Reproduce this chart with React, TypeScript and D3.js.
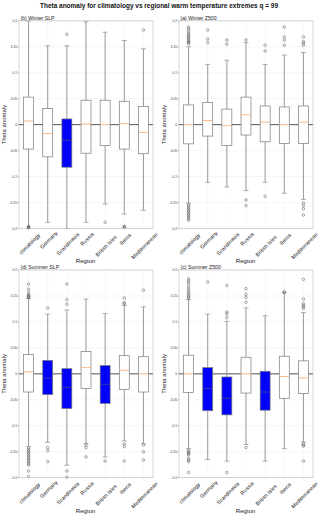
import React from "react"
import * as d3 from "d3"

// Data
const regions = ["climatology", "Germany", "Scandinavia", "Russia", "British Isles", "Iberia", "Mediterranean"]
const yTicks = [-0.2, -0.15, -0.1, -0.05, 0, 0.05, 0.1, 0.15, 0.2]

// (b) Winter SLP
const winterSlpHi = [0.2, 0.152, 0.152, 0.198, 0.178, 0.162, 0.146]
const winterSlpQ3 = [0.053, 0.031, 0.011, 0.047, 0.047, 0.045, 0.035]
const winterSlpMed = [0.007, -0.017, -0.03, 0.001, 0.0, 0.002, -0.015]
const winterSlpQ1 = [-0.047, -0.062, -0.082, -0.055, -0.04, -0.047, -0.056]
const winterSlpLo = [-0.2, -0.188, -0.2, -0.188, -0.153, -0.172, -0.165]
const winterSlpOut = [
  [-0.196, -0.197, -0.198, -0.199],
  [],
  [0.174],
  [],
  [-0.188],
  [-0.196, -0.197, -0.198],
  [0.182]
]
const winterSlpSig = [false, false, true, false, false, false, false]

// (a) Winter Z500
const winterZHi = [0.15, 0.116, 0.124, 0.158, 0.116, 0.134, 0.139]
const winterZQ3 = [0.038, 0.043, 0.03, 0.053, 0.036, 0.034, 0.036]
const winterZMed = [0.0, 0.008, -0.002, 0.019, 0.005, 0.0, 0.005]
const winterZQ1 = [-0.037, -0.022, -0.04, -0.02, -0.033, -0.036, -0.036]
const winterZLo = [-0.151, -0.111, -0.12, -0.127, -0.111, -0.132, -0.144]
const winterZOut = [
  [0.156, 0.158, 0.16, 0.162, 0.165, 0.168, 0.17, 0.173, 0.176, 0.18, 0.184, 0.188,
    -0.154, -0.157, -0.16, -0.163, -0.166, -0.169, -0.172, -0.175, -0.178, -0.181, -0.184],
  [0.182, 0.165, 0.158],
  [0.163, 0.155],
  [0.163, -0.145, -0.156],
  [0.153, 0.142, -0.138],
  [0.188, 0.169, 0.163, 0.153],
  [0.169, 0.16, 0.157, 0.153, -0.151, -0.156, -0.162, -0.174]
]
const winterZSig = [false, false, false, false, false, false, false]

// (d) Summer SLP
const summerSlpHi = [0.145, 0.115, 0.123, 0.144, 0.116, 0.132, 0.129]
const summerSlpQ3 = [0.037, 0.026, 0.01, 0.043, 0.016, 0.035, 0.033]
const summerSlpMed = [0.004, -0.008, -0.026, 0.012, -0.02, 0.007, 0.0]
const summerSlpQ1 = [-0.035, -0.04, -0.067, -0.028, -0.057, -0.03, -0.035]
const summerSlpLo = [-0.14, -0.132, -0.176, -0.134, -0.16, -0.129, -0.134]
const summerSlpOut = [
  [0.147, 0.148, 0.149, 0.151, 0.153, 0.157, 0.163, 0.173,
    -0.143, -0.146, -0.149, -0.152, -0.155, -0.158, -0.161, -0.164, -0.167, -0.17, -0.173, -0.176, -0.187, -0.198],
  [0.127, -0.142, -0.148, -0.169],
  [0.173, 0.143, 0.134, -0.187, -0.199],
  [-0.137, -0.142, -0.16],
  [-0.168],
  [0.146, 0.137, 0.135, -0.135, -0.14, -0.168],
  [0.161, -0.137, -0.15, -0.166]
]
const summerSlpSig = [false, true, true, false, true, false, false]

// (c) Summer Z500
const summerZHi = [0.143, 0.115, 0.101, 0.127, 0.112, 0.156, 0.118]
const summerZQ3 = [0.036, 0.012, -0.006, 0.032, 0.005, 0.034, 0.025]
const summerZMed = [0.0, -0.028, -0.047, 0.0, -0.035, -0.005, -0.008]
const summerZQ1 = [-0.036, -0.071, -0.079, -0.037, -0.07, -0.047, -0.038]
const summerZLo = [-0.144, -0.165, -0.168, -0.136, -0.168, -0.144, -0.131]
const summerZOut = [
  [0.145, 0.148, 0.151, 0.154, 0.157, 0.161, 0.165, 0.17, 0.175, 0.179, 0.183,
    -0.147, -0.15, -0.152, -0.154, -0.156, -0.163, -0.166, -0.169, -0.19],
  [0.177],
  [0.17, 0.119, 0.115, 0.108, -0.19],
  [0.164, 0.153, 0.147, 0.138, -0.142],
  [],
  [0.157, 0.158],
  [0.182, 0.144, 0.135, 0.132, 0.129, 0.126, -0.134, -0.137, -0.139, -0.168]
]
const summerZSig = [false, true, true, false, true, false, false]

const panels = [
  { title: "(b) Winter SLP", col: 0, row: 0, hi: winterSlpHi, q3: winterSlpQ3, med: winterSlpMed, q1: winterSlpQ1, lo: winterSlpLo, out: winterSlpOut, sig: winterSlpSig },
  { title: "(a) Winter Z500", col: 1, row: 0, hi: winterZHi, q3: winterZQ3, med: winterZMed, q1: winterZQ1, lo: winterZLo, out: winterZOut, sig: winterZSig },
  { title: "(d) Summer SLP", col: 0, row: 1, hi: summerSlpHi, q3: summerSlpQ3, med: summerSlpMed, q1: summerSlpQ1, lo: summerSlpLo, out: summerSlpOut, sig: summerSlpSig },
  { title: "(c) Summer Z500", col: 1, row: 1, hi: summerZHi, q3: summerZQ3, med: summerZMed, q1: summerZQ1, lo: summerZLo, out: summerZOut, sig: summerZSig }
]

const font = "'Liberation Sans', Arial, sans-serif"

function Panel({ p }) {
  const left = p.col === 0 ? 19 : 179
  const top = p.row === 0 ? 20.8 : 270
  const w = 134
  const h = 207.7

  const xScale = d3.scaleBand().domain(regions).range([0, w]).padding(0)
  const yScale = d3.scaleLinear().domain([-0.2, 0.2]).range([h, 0])
  const bw = xScale.bandwidth() * 0.52
  const cap = bw * 0.5
  const cx = (r) => xScale(r) + xScale.bandwidth() / 2
  const fs = 5.4

  return (
    <g transform={`translate(${left}, ${top})`}>
      {/* grid */}
      {yTicks.map((t) => (
        <line key={`gy-${t}`} x1={0} x2={w} y1={yScale(t)} y2={yScale(t)} stroke="#ececec" strokeWidth={0.5} />
      ))}
      {regions.map((r) => (
        <line key={`gx-${r}`} x1={cx(r)} x2={cx(r)} y1={0} y2={h} stroke="#e4e4e4" strokeWidth={0.5} strokeDasharray="1,1" />
      ))}
      {/* zero line */}
      <line x1={0} x2={w} y1={yScale(0)} y2={yScale(0)} stroke="#555" strokeWidth={1} />
      {/* boxes */}
      {regions.map((r, i) => {
        const x = cx(r)
        return (
          <g key={`box-${r}`}>
            <line x1={x} x2={x} y1={yScale(p.q3[i])} y2={yScale(p.hi[i])} stroke="#999" strokeWidth={1} />
            <line x1={x} x2={x} y1={yScale(p.q1[i])} y2={yScale(p.lo[i])} stroke="#999" strokeWidth={1} />
            <line x1={x - cap / 2} x2={x + cap / 2} y1={yScale(p.hi[i])} y2={yScale(p.hi[i])} stroke="#999" strokeWidth={0.8} />
            <line x1={x - cap / 2} x2={x + cap / 2} y1={yScale(p.lo[i])} y2={yScale(p.lo[i])} stroke="#999" strokeWidth={0.8} />
            <rect
              x={x - bw / 2}
              y={yScale(p.q3[i])}
              width={bw}
              height={yScale(p.q1[i]) - yScale(p.q3[i])}
              fill={p.sig[i] ? "#0000ff" : "white"}
              stroke="#7a7a7a"
              strokeWidth={0.7}
            />
            <line
              x1={x - bw / 2}
              x2={x + bw / 2}
              y1={yScale(p.med[i])}
              y2={yScale(p.med[i])}
              stroke={p.sig[i] ? "#4a4a7a" : "#f5a870"}
              strokeWidth={0.8}
            />
            {p.out[i].map((v, j) => (
              <circle key={`o-${j}`} cx={x} cy={yScale(v)} r={1.3} fill="none" stroke="#555" strokeWidth={0.5} />
            ))}
          </g>
        )
      })}
      {/* frame */}
      <rect x={0} y={0} width={w} height={h} fill="none" stroke="#bbb" strokeWidth={0.6} />
      {/* y ticks */}
      {yTicks.map((t) => (
        <g key={`ty-${t}`}>
          <line x1={-1.5} x2={0} y1={yScale(t)} y2={yScale(t)} stroke="#888" strokeWidth={0.5} />
          <text x={-2} y={yScale(t)} dy="0.35em" fontSize={3.2} textAnchor="end" fill="#333" fontFamily={font}>
            {t === 0 ? "0" : String(t)}
          </text>
        </g>
      ))}
      {/* x labels: rotated, bbox centred on tick, top aligned */}
      {regions.map((r) => {
        const len = r.length * fs * 0.5
        const half = ((len + fs) * Math.SQRT1_2) / 2
        return (
          <text
            key={`tx-${r}`}
            transform={`translate(${cx(r) + 1}, ${h + 3 + half}) rotate(-45)`}
            textAnchor="middle"
            dy="0.35em"
            fontSize={fs}
            fill="#222"
            fontFamily={font}
          >
            {r}
          </text>
        )
      })}
      <text x={w / 2 - 0.5} y={h + 35} textAnchor="middle" fontSize={6.2} fill="#222" fontFamily={font}>
        Region
      </text>
      <text
        transform={`translate(${-13}, ${yScale(0)}) rotate(-90)`}
        textAnchor="middle"
        fontSize={6}
        fill="#222"
        fontFamily={font}
      >
        Theta anomaly
      </text>
      <text x={1.5} y={-1} fontSize={5.2} fill="#222" fontFamily={font}>
        {p.title}
      </text>
    </g>
  )
}

export default function App() {
  return (
    <svg width={320} height={517} style={{ display: "block", position: "absolute", left: 0, top: 0 }}>
      <rect width={320} height={517} fill="white" />
      <text
        x={40}
        y={8}
        fontSize={6.6}
        fontWeight="bold"
        fill="#111"
        fontFamily={font}
        textLength={238}
        lengthAdjust="spacingAndGlyphs"
      >
        Theta anomaly for climatology vs regional warm temperature extremes q = 99
      </text>
      {panels.map((p) => (
        <Panel key={p.title} p={p} />
      ))}
    </svg>
  )
}
